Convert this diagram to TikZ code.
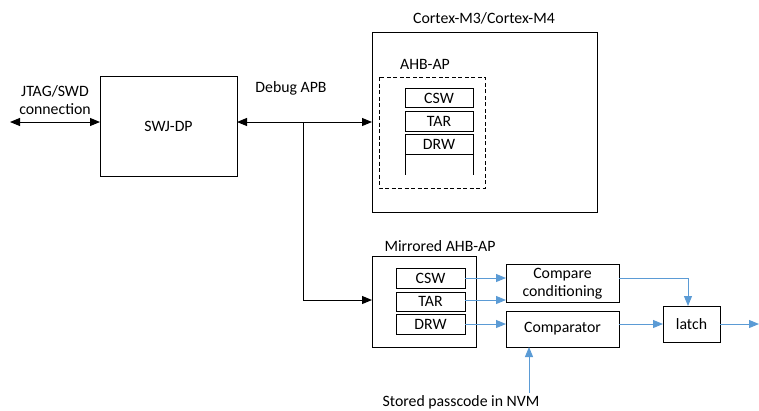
\documentclass[tikz,border=0pt]{standalone}
\usepackage{fontspec}
\setmainfont{Carlito}
\usetikzlibrary{arrows.meta,positioning,calc}
\definecolor{lblue}{RGB}{91,155,213}
\tikzset{
  blk/.style={draw=black,line width=1pt,inner sep=0pt},
  reg/.style={draw=black,line width=1pt,inner sep=0pt},
  lbl/.style={inner sep=0pt,font=\fontsize{15.8}{18}\selectfont},
  barr/.style={line width=1pt,-{Triangle[length=10pt,width=8pt]}},
  barrb/.style={line width=1pt,{Triangle[length=10pt,width=8pt]}-{Triangle[length=10pt,width=8pt]}},
  blarr/.style={line width=1pt,draw=lblue,-{Triangle[length=10pt,width=8pt]},lblue},
}
\begin{document}
\begin{tikzpicture}[x=1pt,y=-1pt]
\useasboundingbox (0,0) rectangle (759,410);
% SWJ-DP
\draw[blk] (100,76) rectangle (237,176);
\node[lbl] (swj) at (168.5,126) {SWJ-DP};
\coordinate (swjl) at (100,122);
\coordinate (swjr) at (237,122);
\coordinate (jtag) at (10,122);
\node[lbl,align=center] (jtaglbl) at (55,100) {JTAG/SWD\\connection};
\draw[barrb] (jtag) -- (swjl);
% Cortex
\draw[blk] (372,32) rectangle (597,212);
\node[lbl] (cortexlbl) at (484,18) {Cortex-M3/Cortex-M4};
\coordinate (cortexl) at (372,122);
\draw[blk,dashed,dash pattern=on 4pt off 2.5pt] (379,77) rectangle (485,188);
\node[lbl] (ahblbl) at (425,64) {AHB-AP};
\draw[reg] (405,88) rectangle (473,107);
\node[lbl] (csw1) at (439,98) {CSW};
\draw[reg] (405,111) rectangle (473,131);
\node[lbl] (tar1) at (439,121) {TAR};
\draw[reg] (405,134) rectangle (473,154);
\node[lbl] (drw1) at (439,144) {DRW};
\draw[line width=1pt] (405,154) -- (405,175) (473,154) -- (473,175);
% Debug APB
\node[lbl] (apblbl) at (291,88) {Debug APB};
\coordinate (branch) at (303,122);
\coordinate (corner) at (303,300);
\coordinate (mirl) at (372,300);
\draw[barrb] (swjr) -- (cortexl);
\draw[line width=1pt] (branch) -- (corner);
\draw[barr] (corner) -- (mirl);
% Mirrored
\draw[blk] (372,256) rectangle (476,347);
\node[lbl] (mirlbl) at (440,246) {Mirrored AHB-AP};
\draw[reg] (396,268) rectangle (465,288);
\node[lbl] (csw2) at (430.5,278) {CSW};
\draw[reg] (396,292) rectangle (465,311);
\node[lbl] (tar2) at (430.5,301.5) {TAR};
\draw[reg] (396,314) rectangle (465,334);
\node[lbl] (drw2) at (430.5,324) {DRW};
% Compare conditioning
\draw[blk] (506,264) rectangle (619,302);
\node[lbl,align=center] (cc) at (562.5,284) {Compare\\conditioning};
\draw[blk] (506,311) rectangle (619,347);
\node[lbl] (cmp) at (562.5,329) {Comparator};
\draw[blk] (663,306) rectangle (720,342);
\node[lbl] (latch) at (691.5,324) {latch};
% blue arrows
\draw[blarr] (465,278) -- (506,278);
\draw[blarr] (465,300) -- (506,300);
\draw[blarr] (465,324) -- (506,324);
\draw[blarr] (619,278) -- (688,278) -- (688,306);
\draw[blarr] (619,324) -- (663,324);
\draw[blarr] (720,324) -- (759,324);
\node[lbl] (nvm) at (461,402) {Stored passcode in NVM};
\draw[blarr] (529,393) -- (529,347);
\end{tikzpicture}
\end{document}
